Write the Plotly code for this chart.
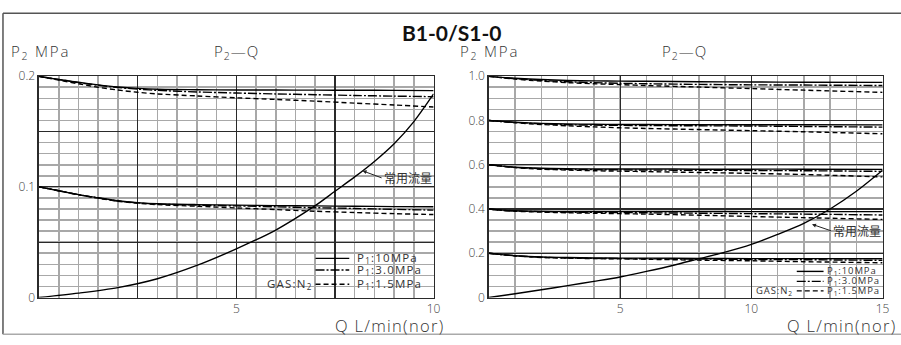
import plotly.graph_objects as go

W, H = 901, 345

# ---------------- data: left chart (Q 0-10 L/min, P2 0-0.2 MPa) ----------------
q_left = [0, 0.5, 1, 1.5, 2, 2.5, 3, 4, 5, 6, 7, 8, 9, 10]
left_02_p10 = [0.2, 0.197, 0.1945, 0.1922, 0.1903, 0.189, 0.1882, 0.1878, 0.1876, 0.1875, 0.1874, 0.1873, 0.1872, 0.187]
left_02_p30 = [0.2, 0.197, 0.1942, 0.1918, 0.1898, 0.1883, 0.1872, 0.1858, 0.1848, 0.184, 0.1833, 0.1826, 0.182, 0.1815]
left_02_p15 = [0.2, 0.1965, 0.1932, 0.190, 0.1875, 0.1855, 0.184, 0.1822, 0.1805, 0.179, 0.1775, 0.1757, 0.174, 0.1722]
left_01_p10 = [0.1, 0.0965, 0.093, 0.0902, 0.0875, 0.0858, 0.0848, 0.084, 0.0835, 0.0831, 0.0828, 0.0825, 0.0822, 0.082]
left_01_p30 = [0.1, 0.0965, 0.093, 0.090, 0.0873, 0.0855, 0.0845, 0.0835, 0.0828, 0.082, 0.0812, 0.0805, 0.0797, 0.079]
left_01_p15 = [0.1, 0.0965, 0.0928, 0.0898, 0.087, 0.0852, 0.084, 0.0825, 0.081, 0.0795, 0.078, 0.0768, 0.0758, 0.075]
q_left_flow = [0, 1, 2, 3, 4, 5, 6, 7, 7.5, 8, 8.5, 9, 9.5, 10]
left_flow = [0, 0.004, 0.009, 0.017, 0.029, 0.044, 0.061, 0.083, 0.096, 0.109, 0.123, 0.139, 0.159, 0.184]

# ---------------- data: right chart (Q 0-15 L/min, P2 0-1.0 MPa) ----------------
q_right = [0, 0.5, 1, 2, 3, 4, 5, 6, 8, 10, 12, 15]
right_10_p10 = [1.0, 0.995, 0.991, 0.985, 0.981, 0.979, 0.978, 0.977, 0.975, 0.974, 0.973, 0.972]
right_10_p30 = [1.0, 0.994, 0.989, 0.981, 0.975, 0.971, 0.968, 0.966, 0.963, 0.961, 0.960, 0.958]
right_10_p15 = [1.0, 0.993, 0.987, 0.978, 0.971, 0.966, 0.962, 0.958, 0.951, 0.944, 0.937, 0.927]
right_08_p10 = [0.8, 0.796, 0.792, 0.787, 0.784, 0.783, 0.782, 0.782, 0.781, 0.781, 0.781, 0.780]
right_08_p30 = [0.8, 0.795, 0.791, 0.785, 0.781, 0.779, 0.778, 0.777, 0.776, 0.775, 0.773, 0.770]
right_08_p15 = [0.8, 0.795, 0.790, 0.782, 0.776, 0.771, 0.767, 0.764, 0.759, 0.754, 0.749, 0.740]
right_06_p10 = [0.6, 0.594, 0.589, 0.584, 0.582, 0.581, 0.581, 0.581, 0.580, 0.580, 0.580, 0.579]
right_06_p30 = [0.6, 0.594, 0.588, 0.582, 0.579, 0.578, 0.577, 0.576, 0.575, 0.574, 0.573, 0.570]
right_06_p15 = [0.6, 0.593, 0.587, 0.580, 0.576, 0.573, 0.571, 0.569, 0.565, 0.561, 0.556, 0.545]
right_04_p10 = [0.4, 0.395, 0.392, 0.390, 0.389, 0.389, 0.389, 0.389, 0.389, 0.388, 0.388, 0.388]
right_04_p30 = [0.4, 0.394, 0.391, 0.388, 0.386, 0.385, 0.384, 0.383, 0.381, 0.379, 0.377, 0.373]
right_04_p15 = [0.4, 0.394, 0.390, 0.386, 0.383, 0.381, 0.379, 0.377, 0.372, 0.366, 0.361, 0.353]
right_02_p10 = [0.2, 0.194, 0.189, 0.183, 0.181, 0.179, 0.178, 0.178, 0.177, 0.176, 0.176, 0.175]
right_02_p30 = [0.2, 0.194, 0.189, 0.182, 0.179, 0.177, 0.176, 0.175, 0.174, 0.172, 0.171, 0.168]
right_02_p15 = [0.2, 0.194, 0.188, 0.181, 0.178, 0.176, 0.175, 0.173, 0.169, 0.166, 0.162, 0.157]
q_right_flow = [0, 1, 2, 3, 4, 5, 6, 7, 8, 9, 10, 11, 12, 13, 14, 15]
right_flow = [0, 0.017, 0.035, 0.054, 0.073, 0.093, 0.118, 0.145, 0.175, 0.205, 0.240, 0.285, 0.335, 0.400, 0.480, 0.575]

# tick labels
left_x_ticks = [0, 2.5, 5, 7.5, 10]
left_x_text = ["", "", "5", "", "10"]
left_y_ticks = [0, 0.05, 0.1, 0.15, 0.2]
left_y_text = ["0", "", "0.1", "", "0.2"]
right_x_ticks = [0, 5, 10, 15]
right_x_text = ["", "5", "10", "15"]
right_y_ticks = [0, 0.2, 0.4, 0.6, 0.8, 1.0]
right_y_text = ["0", "0.2", "0.4", "0.6", "0.8", "1.0"]

legend_labels = ["P<sub>1</sub>:10MPa", "P<sub>1</sub>:3.0MPa", "P<sub>1</sub>:1.5MPa"]
gas_label = "GAS:N<sub>2</sub>"
flow_label = "常用流量"
y_title = "P<sub>2</sub> MPa"
chart_title = "P<sub>2</sub>—Q"
x_title = "Q L/min(nor)"
main_title = "B1-0/S1-0"

# ---------------- styling ----------------
SOLID = "solid"
DASHDOT = "9px,2px,2px,2px"
DASHED = "5px,3px"
LW = 1.4
TXT = "#333"
LFONT = "Open Sans"


def xp(px):
    return px / W


def yp(py):
    return 1 - py / H


def spaced(s, ls):
    return "<span style='letter-spacing:%spx'>%s</span>" % (ls, s)


fig = go.Figure()


def add(x, y, dash, xa, ya):
    fig.add_trace(go.Scatter(x=x, y=y, mode="lines", xaxis=xa, yaxis=ya,
                             line=dict(color="black", width=LW, dash=dash, shape="spline", smoothing=0.8),
                             showlegend=False, hoverinfo="skip"))


for ys, d in [(left_02_p15, DASHED), (left_02_p30, DASHDOT), (left_02_p10, SOLID),
              (left_01_p15, DASHED), (left_01_p30, DASHDOT), (left_01_p10, SOLID)]:
    add(q_left, ys, d, "x", "y")
add(q_left_flow, left_flow, SOLID, "x", "y")

for ys, d in [(right_10_p15, DASHED), (right_10_p30, DASHDOT), (right_10_p10, SOLID),
              (right_08_p15, DASHED), (right_08_p30, DASHDOT), (right_08_p10, SOLID),
              (right_06_p15, DASHED), (right_06_p30, DASHDOT), (right_06_p10, SOLID),
              (right_04_p15, DASHED), (right_04_p30, DASHDOT), (right_04_p10, SOLID),
              (right_02_p15, DASHED), (right_02_p30, DASHDOT), (right_02_p10, SOLID)]:
    add(q_right, ys, d, "x2", "y2")
add(q_right_flow, right_flow, SOLID, "x2", "y2")

tickfont = dict(family=LFONT, size=12, color="#444", weight=300)


def xaxis(domain, rng, tv, tt, minor):
    return dict(domain=domain, range=rng, tickvals=tv, ticktext=tt, showgrid=True,
                gridcolor="#2a2a2a", gridwidth=1.2, zeroline=False, showline=True,
                linecolor="#2a2a2a", linewidth=1.5, mirror=True, ticks="",
                minor=dict(dtick=minor, tick0=0, showgrid=True, gridcolor="#a8a8a8", gridwidth=1.6, ticks=""),
                tickfont=tickfont, fixedrange=True)


def yaxis(domain, rng, tv, tt, minor, anchor):
    d = xaxis(domain, rng, tv, tt, minor)
    d["anchor"] = anchor
    return d


ytop, ybot = 70.7, 303.5
fig.update_layout(
    width=W, height=H, margin=dict(l=0, r=0, t=0, b=0),
    paper_bgcolor="white", plot_bgcolor="white",
    xaxis=xaxis([xp(39.3), xp(437)], [0, 10], left_x_ticks, left_x_text, 0.5) | dict(anchor="y"),
    yaxis=yaxis([yp(ybot), yp(ytop)], [0, 0.2], left_y_ticks, left_y_text, 0.01, "x"),
    xaxis2=xaxis([xp(492.7), xp(889.5)], [0, 15], right_x_ticks, right_x_text, 1) | dict(anchor="y2"),
    yaxis2=yaxis([yp(ybot), yp(ytop)], [0, 1.0], right_y_ticks, right_y_text, 0.05, "x2"),
    showlegend=False,
)

ann = []


def text(x, y, s, size, xanchor="center", family=LFONT, weight=300, color=TXT):
    ann.append(dict(x=xp(x), y=yp(y), xref="paper", yref="paper", text=s, showarrow=False,
                    xanchor=xanchor, yanchor="middle",
                    font=dict(family=family, size=size, color=color, weight=weight)))


text(456, 25, main_title, 21, family="Lato", weight=700, color="#111")
text(9, 45, spaced(y_title, 1.8), 15, "left")
text(238, 45, spaced(chart_title, 1), 15)
text(462, 45, spaced(y_title, 1.8), 15, "left")
text(690, 45, spaced(chart_title, 1), 15)
text(449, 332.5, spaced(x_title, 1.3), 16.5, "right")
text(905, 332.5, spaced(x_title, 1.3), 16.5, "right")

# legends
shapes = []


def seg(x0, x1, y, dash):
    shapes.append(dict(type="line", xref="paper", yref="paper", x0=xp(x0), x1=xp(x1), y0=yp(y), y1=yp(y),
                       line=dict(color="black", width=1.4, dash=dash)))


for (yy, d, lab) in zip([262.3, 274.5, 289.5], [SOLID, DASHDOT, DASHED], legend_labels):
    seg(318, 352, yy, d)
    text(358, yy, spaced(lab, 1.2), 11.5, "left", weight=400)
text(316, 289.5, spaced(gas_label, 1.2), 11.5, "right", weight=400)

for (yy, d, lab) in zip([276, 286.5, 296.5], [SOLID, DASHDOT, DASHED], legend_labels):
    seg(803, 830, yy, d)
    text(831, yy, spaced(lab, 0.9), 9.5, "left", weight=400)
text(801, 296.5, spaced(gas_label, 0.9), 9.5, "right", weight=400)

# frame
shapes.append(dict(type="line", xref="paper", yref="paper", x0=xp(3), x1=1.01, y0=yp(4.5), y1=yp(4.5),
                   line=dict(color="#555", width=1.5)))
shapes.append(dict(type="line", xref="paper", yref="paper", x0=xp(3), x1=xp(3), y0=yp(4.5), y1=yp(342),
                   line=dict(color="#555", width=1.5)))
shapes.append(dict(type="line", xref="paper", yref="paper", x0=xp(3), x1=1.01, y0=yp(342), y1=yp(342),
                   line=dict(color="#aaa", width=1.5)))

# 常用流量 annotations with arrows
ann.append(dict(x=8.2, y=0.1145, xref="x", yref="y", text=flow_label, showarrow=True,
                ax=19, ay=7, xanchor="left", yanchor="middle", arrowhead=2, arrowsize=0.8, arrowwidth=1,
                arrowcolor="#222", font=dict(family="Noto Sans CJK JP", size=12, color=TXT)))
ann.append(dict(x=12.31, y=0.331, xref="x2", yref="y2", text=flow_label, showarrow=True,
                ax=19, ay=6.5, xanchor="left", yanchor="middle", arrowhead=2, arrowsize=0.8, arrowwidth=1,
                arrowcolor="#222", font=dict(family="Noto Sans CJK JP", size=12, color=TXT)))

fig.update_layout(annotations=ann, shapes=shapes)
fig.write_html("out.html", config={"displayModeBar": False, "staticPlot": True},
               post_script="document.body.style.margin='0';document.body.style.overflow='hidden';"
                           "document.documentElement.style.overflow='hidden';")
